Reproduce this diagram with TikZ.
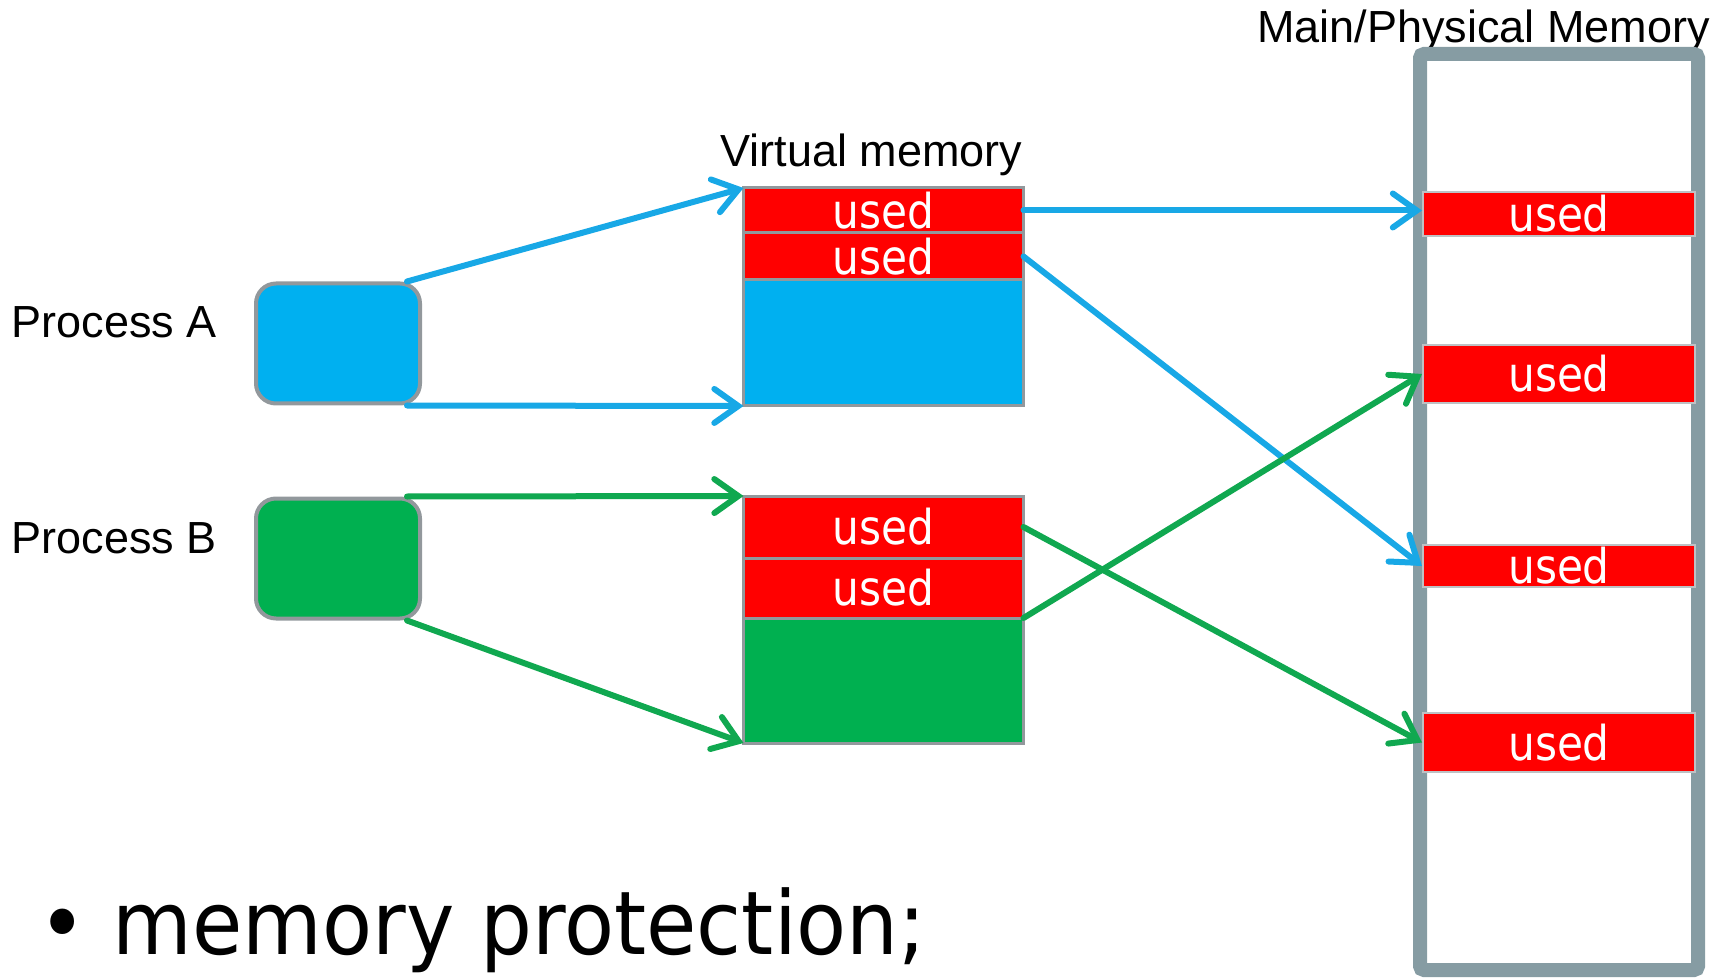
\documentclass[tikz,border=0pt]{standalone}
\usepackage{fontspec}
\setmainfont{Liberation Sans}
\newfontfamily\usedfont[FakeStretch=0.88]{DejaVu Sans}
\newfontfamily\slidefont[FakeStretch=0.93]{DejaVu Sans}
\usetikzlibrary{arrows.meta,positioning}
\definecolor{procblue}{RGB}{0,176,240}
\definecolor{procgreen}{RGB}{0,176,80}
\definecolor{linkblue}{RGB}{24,168,230}
\definecolor{linkgreen}{RGB}{16,168,80}
\definecolor{usedred}{RGB}{255,0,0}
\definecolor{edgegray}{RGB}{146,152,156}
\definecolor{framegray}{RGB}{134,156,163}

\begin{document}
\begin{tikzpicture}[x=0.5pt,y=-0.5pt,
  lbl/.style={inner sep=0pt,font=\fontsize{22.5pt}{27pt}\selectfont},
  proc/.style={draw=edgegray,line width=2pt,rounded corners=10pt,
    minimum width=82pt,minimum height=60pt,inner sep=0pt},
  cell/.style={draw=edgegray,line width=1.5pt,outer sep=0pt,inner sep=0pt,
    minimum width=140pt},
  used/.style={cell,fill=usedred,text=white,
    font=\usedfont\fontsize{24pt}{28pt}\selectfont},
  slot/.style={draw=edgegray!60,line width=1pt,fill=usedred,text=white,
    inner sep=0pt,minimum width=136pt,
    font=\usedfont\fontsize{24pt}{28pt}\selectfont},
  link/.style={line width=3pt,line cap=round,
    -{Straight Barb[length=12pt,width=17pt,line cap=round]}}]
  \clip (0,0) rectangle (1734,978);

  % processes
  \node[proc,fill=procblue] (procA) at (338,343.5) {};
  \node[proc,fill=procgreen] (procB) at (338,558.5) {};
  \node[lbl,anchor=base east] (labA) at (217,338) {Process A};
  \node[lbl,anchor=base east] (labB) at (217,553) {Process B};

  % virtual memory
  \node[lbl,anchor=base west] (vlabel) at (720,167) {Virtual memory};
  \node[used,minimum height=22.5pt] (vA1) at (883.5,210.5) {used};
  \node[used,minimum height=23.5pt,below=0pt of vA1] (vA2) {used};
  \node[cell,fill=procblue,minimum height=63pt,below=0pt of vA2] (vA3) {};
  \node[used,minimum height=31pt] (vB1) at (883.5,527) {used};
  \node[used,minimum height=30pt,below=0pt of vB1] (vB2) {used};
  \node[cell,fill=procgreen,minimum height=62.5pt,below=0pt of vB2] (vB3) {};

  % physical memory
  \node[lbl,anchor=base west] (plabel) at (1257,43) {Main/Physical Memory};
  \node[draw=framegray,line width=7pt,rounded corners=2pt,
    minimum width=139pt,minimum height=458pt] (phys) at (1559,512) {};
  \node[slot,minimum height=22pt] (p1) at (1559,214) {used};
  \node[slot,minimum height=29pt] (p2) at (1559,374) {used};
  \node[slot,minimum height=21pt] (p3) at (1559,566) {used};
  \node[slot,minimum height=29.5pt] (p4) at (1559,742.5) {used};

  \draw[link,linkblue] ([xshift=-7.5pt]procA.north east) -- (vA1.north west);
  \draw[link,linkblue] ([xshift=-7.5pt]procA.south east) -- (vA3.south west);
  \draw[link,linkgreen] ([xshift=-7.5pt]procB.north east) -- (vB1.north west);
  \draw[link,linkgreen] ([xshift=-7.5pt]procB.south east) -- (vB3.south west);
  \draw[link,linkblue] (vA1.east) -- (vA1.east -| p1.west);
  \draw[link,linkblue] (vA2.east) -- (p3.west);
  \draw[link,linkgreen] (vB1.east) -- (p4.west);
  \draw[link,linkgreen] (vB2.south east) -- (p2.west);

  \node[inner sep=0pt,anchor=base west,
    font=\slidefont\fontsize{44pt}{50pt}\selectfont] (point) at (38,954)
    {• memory protection;};
\end{tikzpicture}
\end{document}
